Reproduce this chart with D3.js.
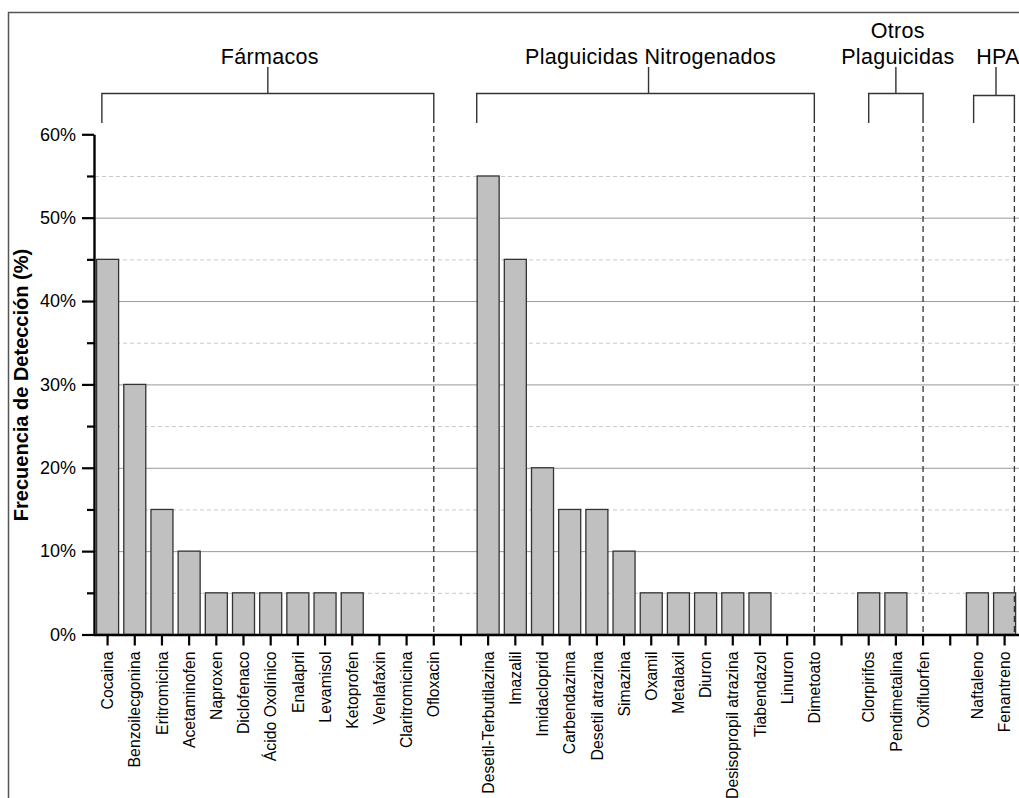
<!DOCTYPE html>
<html>
<head>
<meta charset="utf-8">
<script src="https://cdn.jsdelivr.net/npm/d3@7"></script>
<style>
  html, body { margin: 0; padding: 0; background: #fff; }
  svg { display: block; }
  text { font-family: "Liberation Sans", Arial, sans-serif; fill: #000; }
</style>
</head>
<body>
<svg id="chart" width="1019" height="798"></svg>
<script>
// ---------------- DATA ----------------
const groupNames = ["Fármacos", "Plaguicidas Nitrogenados", "Otros Plaguicidas", "HPA"];
const groupLabelLines = [["Fármacos"], ["Plaguicidas Nitrogenados"], ["Otros", "Plaguicidas"], ["HPA"]];

const farmacos = ["Cocaina", "Benzoilecgonina", "Eritromicina", "Acetaminofen", "Naproxen", "Diclofenaco",
  "Ácido Oxolínico", "Enalapril", "Levamisol", "Ketoprofen", "Venlafaxin", "Claritromicina", "Ofloxacin"];
const farmacosValues = [45, 30, 15, 10, 5, 5, 5, 5, 5, 5, 0, 0, 0];

const plaguicidasN = ["Desetil-Terbutilazina", "Imazalil", "Imidacloprid", "Carbendazima", "Desetil atrazina",
  "Simazina", "Oxamil", "Metalaxil", "Diuron", "Desisopropil atrazina", "Tiabendazol", "Linuron", "Dimetoato"];
const plaguicidasNValues = [55, 45, 20, 15, 15, 10, 5, 5, 5, 5, 5, 0, 0];

const otrosPlaguicidas = ["Clorpirifos", "Pendimetalina", "Oxifluorfen"];
const otrosPlaguicidasValues = [5, 5, 0];

const hpa = ["Naftaleno", "Fenantreno"];
const hpaValues = [5, 5];

const majorTicks = [0, 10, 20, 30, 40, 50, 60];
const minorTicks = [5, 15, 25, 35, 45, 55];
const yTitle = "Frecuencia de Detección (%)";

// ---------------- BUILD ----------------
const groupCats = [farmacos, plaguicidasN, otrosPlaguicidas, hpa];
const groupVals = [farmacosValues, plaguicidasNValues, otrosPlaguicidasValues, hpaValues];

const slots = [];
const rows = [];
groupCats.forEach((cats, gi) => {
  cats.forEach((c, i) => { slots.push(c); rows.push({ cat: c, value: groupVals[gi][i] }); });
  if (gi < groupCats.length - 1) slots.push("__gap" + gi);
});

const svg = d3.select("#chart");

// frame
svg.append("path")
  .attr("d", "M8.5,798 V12.5 H1019")
  .attr("fill", "none").attr("stroke", "#555").attr("stroke-width", 1.5);

const x0 = 94, x1 = 1018.2, yTop = 134.3, yBot = 634.5;
const x = d3.scaleBand().domain(slots).range([x0, x1]).paddingInner(0.19).paddingOuter(0.095);
const step = x.step();
const cx = d => x(d) + x.bandwidth() / 2;
const y = d3.scaleLinear().domain([0, 60]).range([yBot, yTop]);

// gridlines
const grid = svg.append("g");
grid.selectAll("line.minor").data(minorTicks).join("line")
  .attr("x1", x0 + 1).attr("x2", 1019)
  .attr("y1", d => y(d) + 0.5).attr("y2", d => y(d) + 0.5)
  .attr("stroke", "#c8c8c8").attr("stroke-width", 1).attr("stroke-dasharray", "4,3");
grid.selectAll("line.major").data(majorTicks.filter(d => d > 0 && d < 60)).join("line")
  .attr("x1", x0 + 1).attr("x2", 1019)
  .attr("y1", d => y(d) + 0.5).attr("y2", d => y(d) + 0.5)
  .attr("stroke", "#9a9a9a").attr("stroke-width", 1);

// bars
svg.append("g").selectAll("rect").data(rows.filter(r => r.value > 0)).join("rect")
  .attr("x", d => x(d.cat))
  .attr("width", x.bandwidth())
  .attr("y", d => y(d.value))
  .attr("height", d => y(0) - y(d.value))
  .attr("fill", "#c0c0c0").attr("stroke", "#333").attr("stroke-width", 1.3);

// group brackets
const groupLayout = [
  { left: cx(farmacos[0]) - 0.21 * step, right: cx(farmacos[farmacos.length - 1]) },
  { left: cx(plaguicidasN[0]) - 0.42 * step, right: cx(plaguicidasN[plaguicidasN.length - 1]) },
  { left: cx(otrosPlaguicidas[0]), right: cx(otrosPlaguicidas[otrosPlaguicidas.length - 1]) },
  { left: cx(hpa[0]) - 0.14 * step, right: cx(hpa[hpa.length - 1]) + 0.36 * step }
];
const brY = [93.5, 93.5, 93.5, 95.5];
const br = svg.append("g");
groupLayout.forEach((g, i) => {
  const mid = (g.left + g.right) / 2 + (i === 1 ? 3 : 0) + (i === 3 ? 2 : 0);
  br.append("path")
    .attr("d", `M${g.left},123 V${brY[i]} H${g.right} V123 M${mid},${brY[i]} V67`)
    .attr("fill", "none").attr("stroke", "#333").attr("stroke-width", 1.4);
  br.append("line")
    .attr("x1", g.right).attr("x2", g.right).attr("y1", 126).attr("y2", yBot)
    .attr("stroke", "#333").attr("stroke-width", 1.3).attr("stroke-dasharray", "6,4");
  const lines = groupLabelLines[i];
  lines.forEach((t, li) => {
    br.append("text")
      .attr("x", mid + 2)
      .attr("y", 64 - (lines.length - 1 - li) * 26)
      .attr("text-anchor", "middle")
      .attr("font-size", 21.5)
      .attr("letter-spacing", 0.3)
      .text(t);
  });
});

// y axis
const yAxis = svg.append("g").attr("transform", `translate(${x0},0)`)
  .call(d3.axisLeft(y).tickValues(majorTicks).tickFormat(d => d + "%").tickSize(12).tickSizeOuter(0).tickPadding(6));
yAxis.select(".domain").attr("stroke", "#000").attr("stroke-width", 2.4);
yAxis.selectAll(".tick line").attr("stroke", "#000").attr("stroke-width", 2.2);
yAxis.selectAll(".tick text").attr("font-size", 18).attr("font-family", "Liberation Sans, Arial, sans-serif").attr("fill", "#000");
const yMinor = svg.append("g").attr("transform", `translate(${x0},0)`)
  .call(d3.axisLeft(y).tickValues(minorTicks).tickFormat("").tickSize(7).tickSizeOuter(0));
yMinor.select(".domain").remove();
yMinor.selectAll(".tick line").attr("stroke", "#000").attr("stroke-width", 2.2);

// x axis
const xAxis = svg.append("g").attr("transform", `translate(0,${yBot})`)
  .call(d3.axisBottom(x).tickSize(11).tickSizeOuter(0).tickFormat(d => d.startsWith("__gap") ? "" : d));
xAxis.select(".domain").attr("d", `M${x0},0.5H1019`).attr("stroke", "#000").attr("stroke-width", 2.4);
xAxis.selectAll(".tick line").attr("stroke", "#000").attr("stroke-width", 2.2);
xAxis.selectAll(".tick text")
  .attr("font-size", 15.8)
  .attr("font-family", "Liberation Sans, Arial, sans-serif")
  .attr("fill", "#000")
  .attr("text-anchor", "end")
  .attr("transform", "rotate(-90)")
  .attr("x", -17).attr("y", 0).attr("dy", "0.36em");

// y title
svg.append("text")
  .attr("transform", `translate(28,385) rotate(-90)`)
  .attr("text-anchor", "middle")
  .attr("font-size", 20)
  .attr("font-weight", "bold")
  .text(yTitle);
</script>
</body>
</html>
